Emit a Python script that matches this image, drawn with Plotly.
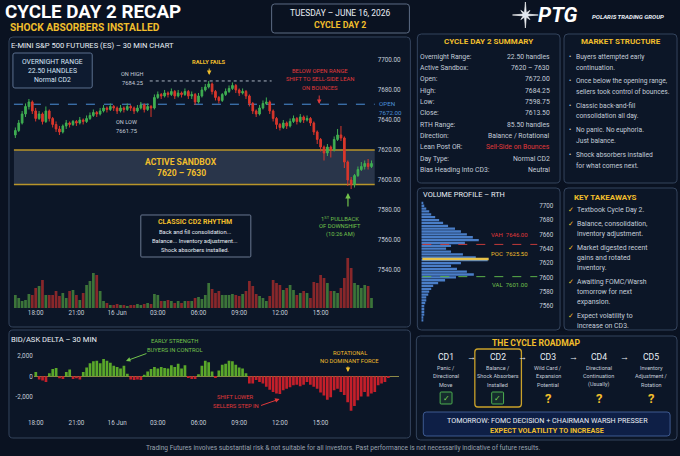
import math

import pandas as pd
import plotly.graph_objects as go

W, H = 680, 456
BG = "#0a1221"
PANEL = "#0c1627"
EDGE = "#34445d"
GOLD = "#f0be2c"
WHITE = "#e9eef5"
SOFT = "#c3ccd8"
RED = "#e0393a"
GREEN = "#72c24c"
BLUE = "#4b8fd8"
FONT = "Roboto"

# ES 15 min bars, first bar 16:30 on 15 Jun
bar_start = "2026-06-15 16:30"
candle_open = [7630, 7633, 7638, 7644, 7649, 7652, 7646, 7641, 7644, 7639,
               7646, 7641, 7637, 7634, 7632, 7636, 7638, 7637, 7639, 7638,
               7640, 7639, 7641, 7643, 7645, 7644, 7646, 7648, 7647, 7649,
               7648, 7646, 7648, 7647, 7649, 7648, 7646, 7648, 7650, 7647,
               7649, 7648, 7655, 7657, 7656, 7658, 7657, 7659, 7656, 7658,
               7657, 7659, 7656, 7657, 7652, 7656, 7660, 7662, 7664, 7659,
               7655, 7653, 7657, 7659, 7661, 7663, 7660, 7658, 7659, 7656,
               7651, 7646, 7644, 7648, 7651, 7652, 7646, 7641, 7637, 7635,
               7638, 7636, 7639, 7641, 7639, 7642, 7640, 7641, 7638, 7632,
               7627, 7622, 7618, 7622, 7620, 7627, 7630, 7628, 7612, 7600,
               7597, 7603, 7607, 7609, 7611, 7609]
candle_high = [7635, 7640, 7646, 7651, 7654, 7653, 7648, 7646, 7645, 7649,
               7647, 7642, 7639, 7636, 7637, 7640, 7639, 7640, 7640, 7642,
               7641, 7643, 7645, 7647, 7646, 7648, 7650, 7649, 7651, 7650,
               7649, 7650, 7649, 7651, 7650, 7649, 7650, 7652, 7651, 7651,
               7650, 7657, 7659, 7658, 7660, 7659, 7661, 7660, 7660, 7659,
               7661, 7660, 7659, 7658, 7658, 7662, 7664, 7666, 7665, 7660,
               7656, 7658, 7661, 7663, 7665, 7664, 7661, 7661, 7660, 7657,
               7652, 7647, 7650, 7653, 7655, 7653, 7647, 7642, 7638, 7640,
               7639, 7641, 7643, 7642, 7644, 7643, 7643, 7642, 7639, 7633,
               7628, 7623, 7624, 7623, 7629, 7634, 7636, 7629, 7613, 7602,
               7604, 7609, 7612, 7613, 7614, 7613]
candle_low = [7628, 7632, 7637, 7642, 7647, 7644, 7639, 7640, 7637, 7638,
              7639, 7635, 7632, 7630, 7631, 7634, 7635, 7636, 7636, 7637,
              7637, 7638, 7640, 7642, 7642, 7643, 7645, 7645, 7646, 7646,
              7644, 7645, 7645, 7646, 7646, 7644, 7645, 7647, 7645, 7646,
              7642, 7647, 7654, 7654, 7655, 7655, 7656, 7654, 7655, 7655,
              7656, 7654, 7654, 7650, 7651, 7655, 7659, 7661, 7657, 7653,
              7651, 7652, 7656, 7658, 7660, 7658, 7656, 7657, 7654, 7649,
              7644, 7642, 7643, 7647, 7650, 7644, 7639, 7634, 7633, 7634,
              7634, 7635, 7638, 7637, 7638, 7638, 7639, 7636, 7630, 7624,
              7619, 7613, 7616, 7615, 7619, 7626, 7626, 7608, 7596, 7594,
              7595, 7602, 7606, 7607, 7607, 7608]
candle_close = [7633, 7638, 7644, 7649, 7652, 7646, 7641, 7644, 7639, 7646,
                7641, 7637, 7634, 7632, 7636, 7638, 7637, 7639, 7638, 7640,
                7639, 7641, 7643, 7645, 7644, 7646, 7648, 7647, 7649, 7648,
                7646, 7648, 7647, 7649, 7648, 7646, 7648, 7650, 7647, 7649,
                7648, 7655, 7657, 7656, 7658, 7657, 7659, 7656, 7658, 7657,
                7659, 7656, 7657, 7652, 7656, 7660, 7662, 7664, 7659, 7655,
                7653, 7657, 7659, 7661, 7663, 7660, 7658, 7659, 7656, 7651,
                7646, 7644, 7648, 7651, 7652, 7646, 7641, 7637, 7635, 7638,
                7636, 7639, 7641, 7639, 7642, 7640, 7641, 7638, 7632, 7627,
                7622, 7618, 7622, 7620, 7627, 7630, 7628, 7612, 7600, 7597,
                7603, 7607, 7609, 7611, 7609, 7611]
# volume in thousands of contracts
volume_k = [13, 10, 7, 8, 14, 13, 20, 22, 28, 13,
            13, 13, 17, 12, 15, 10, 17, 18, 13, 8,
            15, 23, 27, 35, 33, 17, 7, 5, 3, 3,
            4, 3, 3, 2, 3, 3, 4, 3, 4, 5,
            4, 14, 13, 7, 7, 8, 7, 5, 7, 5,
            7, 7, 7, 10, 11, 9, 13, 25, 19, 15,
            17, 13, 13, 13, 14, 13, 12, 14, 17, 27,
            22, 14, 12, 10, 7, 12, 28, 25, 23, 18,
            20, 23, 18, 13, 15, 17, 15, 10, 26, 25,
            33, 30, 25, 17, 17, 15, 20, 30, 50, 40,
            25, 23, 20, 23, 22, 10]

# bid/ask delta, 15 min, from 18:00
delta_start = "2026-06-15 18:00"
delta = [400, -300, -400, -550, 300, 700, 800, -200, -250, 400,
         650, -250, -200, -300, 400, 850, 1250, 1450, 1500, 1250,
         1650, 1500, 1300, 1000, 900, 750, 1000, 250, -300, -350,
         -300, -350, 150, 450, 700, 900, 750, 900, 800, 750,
         1050, 900, 1200, 750, 1050, -100, -250, -250, 200, 1000,
         1500, 1350, 450, -150, 550, 1100, 1200, 1500, 1450, 1100,
         850, 750, 300, -700, -700, -350, -550, -700, -1000, -1300,
         -1500, -1650, -1700, -1350, -1200, -1050, -850, -800, -950, -800,
         -550, -800, -1000, -1200, -1550, -1850, -2250, -2000, -1350, -1200,
         -1500, -1800, -2500, -3300, -2850, -2300, -1950, -1500, -1950, -1650,
         -1500, -850, -700, -550, -100]

time_tick_times = ["2026-06-15 18:00", "2026-06-15 21:00", "2026-06-16 00:00",
                   "2026-06-16 03:00", "2026-06-16 06:00", "2026-06-16 09:00",
                   "2026-06-16 12:00", "2026-06-16 15:00"]
time_tick_labels = ["18:00", "21:00", "16 Jun", "03:00", "06:00", "09:00", "12:00", "15:00"]

# the reference prints its upper two price labels one step higher than the grid
price_tick_vals = [7540, 7560, 7580, 7600, 7620, 7640, 7660, 7680]
price_tick_labels = ["7540.00", "7560.00", "7580.00", "7600.00", "7620.00",
                     "7640.00", "7680.00", "7700.00"]
delta_tick_vals = [-2000, 0, 2000]
delta_tick_labels = ["-2,000", "0", "2,000"]

# volume profile (RTH), 4 point bins
profile_prices = [7540, 7544, 7548, 7552, 7556, 7560, 7564, 7568, 7572, 7576,
                  7580, 7584, 7588, 7592, 7596, 7600, 7604, 7608, 7612, 7616,
                  7620, 7624, 7628, 7632, 7636, 7640, 7644, 7648, 7652, 7656,
                  7660, 7664, 7668, 7672, 7676, 7680, 7684, 7688, 7692, 7696,
                  7700, 7704]
profile_volume = [2, 2, 3, 3, 3, 3, 4, 5, 5, 7,
                  8, 10, 12, 17, 24, 35, 53, 46, 36, 30,
                  40, 67, 55, 42, 30, 25, 30, 44, 58, 52,
                  46, 40, 34, 27, 22, 18, 14, 10, 8, 5,
                  3, 2]
profile_tick_vals = [7560, 7580, 7600, 7620, 7640, 7660, 7680, 7700]
VAH, POC, VAL = 7646.00, 7625.50, 7601.00

summary_labels = ["Overnight Range:", "Active Sandbox:", "Open:", "High:", "Low:", "Close:",
                  "RTH Range:", "Direction:", "Lean Post OR:", "Day Type:",
                  "Bias Heading Into CD3:"]
summary_values = ["22.50 handles", "7620 – 7630", "7672.00", "7684.25", "7598.75", "7613.50",
                  "85.50 handles", "Balance / Rotational", "Sell-Side on Bounces",
                  "Normal CD2", "Neutral"]

structure_items = [["Buyers attempted early", "continuation."],
                   ["Once below the opening range,", "sellers took control of bounces."],
                   ["Classic back-and-fill", "consolidation all day."],
                   ["No panic. No euphoria.", "Just balance."],
                   ["Shock absorbers installed", "for what comes next."]]

takeaway_items = [["Textbook Cycle Day 2."],
                  ["Balance, consolidation,", "inventory adjustment."],
                  ["Market digested recent", "gains and rotated", "inventory."],
                  ["Awaiting FOMC/Warsh", "tomorrow for next", "expansion."],
                  ["Expect volatility to", "increase on CD3."]]

roadmap_days = ["CD1", "CD2", "CD3", "CD4", "CD5"]
roadmap_desc = [["Panic /", "Directional", "Move"],
                ["Balance /", "Shock Absorbers", "Installed"],
                ["Wild Card /", "Expansion", "Potential"],
                ["Directional", "Continuation", "(Usually)"],
                ["Inventory", "Adjustment /", "Rotation"]]
roadmap_done = [True, True, False, False, False]

annotations = []
shapes = []


def px(x):
    return x / W


def py(y):
    return 1 - y / H


def note(x, y, text, size=7, color=WHITE, align="center", bold=False, italic=False):
    if bold:
        text = "<b>" + text + "</b>"
    if italic:
        text = "<i>" + text + "</i>"
    if align == "left":
        # annotation boxes carry some padding, pull left aligned text back to the glyph edge
        x -= 2 + 0.3 * size
    annotations.append(dict(x=px(x), y=py(y), xref="paper", yref="paper", text=text,
                            showarrow=False, xanchor=align, yanchor="middle", align=align,
                            font=dict(size=size, color=color, family=FONT)))


def arrow(x_head, y_head, x_tail, y_tail, color, width=1.1):
    # ax / ay are pixel offsets of the tail from the head
    annotations.append(dict(x=px(x_head), y=py(y_head), ax=x_tail - x_head, ay=y_tail - y_head,
                            xref="paper", yref="paper", text="", showarrow=True,
                            arrowhead=2, arrowsize=0.9, arrowwidth=width, arrowcolor=color))


def rrect(x0, y0, x1, y1, r=4, line=EDGE, fill=PANEL, width=1):
    def p(x, y):
        return f"{px(x):.5f},{py(y):.5f}"
    path = ("M" + p(x0 + r, y0) + " L" + p(x1 - r, y0) + " Q" + p(x1, y0) + " " + p(x1, y0 + r)
            + " L" + p(x1, y1 - r) + " Q" + p(x1, y1) + " " + p(x1 - r, y1)
            + " L" + p(x0 + r, y1) + " Q" + p(x0, y1) + " " + p(x0, y1 - r)
            + " L" + p(x0, y0 + r) + " Q" + p(x0, y0) + " " + p(x0 + r, y0) + " Z")
    shapes.append(dict(type="path", path=path, xref="paper", yref="paper",
                       line=dict(color=line, width=width), fillcolor=fill, layer="below"))


def star(cx, cy):
    pts = []
    for k in range(16):
        a = math.radians(-90 + k * 22.5)
        r = 2.4 if k % 2 else (13 if k % 4 == 0 else 6.5)
        pts.append(f"{px(cx + r * math.cos(a)):.5f},{py(cy + r * math.sin(a)):.5f}")
    shapes.append(dict(type="path", path="M" + " L".join(pts) + " Z", xref="paper",
                       yref="paper", line=dict(color="#ffffff", width=0.6),
                       fillcolor="#dfe5ee"))


def main():
    times = pd.date_range(bar_start, periods=len(candle_close), freq="15min")
    delta_times = pd.date_range(delta_start, periods=len(delta), freq="15min")

    vol_colors = ["rgba(72,140,62,0.8)" if c >= o else "rgba(168,44,44,0.8)"
                  for o, c in zip(candle_open, candle_close)]
    delta_colors = ["#5aa82a" if d >= 0 else "#c41f2a" for d in delta]

    fig = go.Figure()
    fig.add_trace(go.Candlestick(
        x=times, open=candle_open, high=candle_high, low=candle_low, close=candle_close,
        increasing=dict(line=dict(color="#3fae52", width=1), fillcolor="#3fae52"),
        decreasing=dict(line=dict(color="#d9372c", width=1), fillcolor="#d9372c"),
        whiskerwidth=0, xaxis="x", yaxis="y", showlegend=False))
    fig.add_trace(go.Bar(x=times, y=volume_k, marker=dict(color=vol_colors, line_width=0),
                         xaxis="x", yaxis="y2", showlegend=False))
    fig.add_trace(go.Bar(x=delta_times, y=delta, marker=dict(color=delta_colors, line_width=0),
                         xaxis="x2", yaxis="y3", showlegend=False))
    fig.add_trace(go.Bar(x=profile_volume, y=profile_prices, orientation="h", width=3.2,
                         marker=dict(color="#4a7ec8", line_width=0),
                         xaxis="x3", yaxis="y4", showlegend=False))

    # panels
    rrect(268, 4, 407, 33, 3, line="#5d6c84", fill=BG)
    rrect(3, 37, 408, 327)
    rrect(3, 330, 408, 438)
    rrect(415, 34, 559, 183)
    rrect(563, 34, 677, 183)
    rrect(415, 188, 559, 330)
    rrect(563, 188, 677, 330)
    rrect(414, 336, 677, 440)

    # header
    note(5, 11.5, "CYCLE DAY 2 RECAP", 18.8, "#ffffff", "left", bold=True)
    note(7, 27.5, "SHOCK ABSORBERS INSTALLED", 10.2, GOLD, "left", bold=True)
    note(337, 13, "TUESDAY – JUNE 16, 2026", 8.4, WHITE)
    note(337, 25, "CYCLE DAY 2", 8.8, GOLD, bold=True)
    star(524, 15)
    note(543, 15, "PTG", 21, "#ffffff", "left", bold=True, italic=True)
    note(593, 17, "POLARIS TRADING GROUP", 6.1, WHITE, "left", bold=True, italic=True)

    # price panel
    note(7, 45, "E-MINI S&P 500 FUTURES (ES) – 30 MIN CHART", 7.6, WHITE, "left")
    rrect(7, 53, 87, 88, 2, line="#5b6f8e", fill="#0e1b30")
    note(47, 62, "OVERNIGHT RANGE", 6.8, "#d6e4f5")
    note(47, 71, "22.50 HANDLES", 6.8, "#d6e4f5")
    note(47, 80, "Normal CD2", 6.8, "#d6e4f5")

    shapes.append(dict(type="rect", xref="paper", yref="y", x0=px(8), x1=px(372),
                       y0=7597, y1=7620, fillcolor="rgba(120,138,165,0.28)",
                       line=dict(width=0), layer="below"))
    for lvl in (7597, 7620):
        shapes.append(dict(type="line", xref="paper", yref="y", x0=px(8), x1=px(372),
                           y0=lvl, y1=lvl, line=dict(color="#b8952a", width=1.4), layer="below"))
    shapes.append(dict(type="line", xref="paper", yref="y", x0=px(8), x1=px(372),
                       y0=7650.5, y1=7650.5, line=dict(color=BLUE, width=1, dash="dash"),
                       layer="below"))
    shapes.append(dict(type="line", xref="paper", yref="y", x0=px(145), x1=px(268),
                       y0=7666, y1=7666, line=dict(color="#aab3c0", width=1, dash="dot"),
                       layer="below"))

    note(177, 162, "ACTIVE SANDBOX", 8.6, GOLD, bold=True)
    note(177, 173, "7620 – 7630", 8.6, GOLD, bold=True)
    note(128, 74, "ON HIGH", 5.6, SOFT)
    note(128, 83, "7684.25", 5.8, SOFT)
    note(122, 122, "ON LOW", 5.6, SOFT)
    note(122, 131, "7661.75", 5.8, SOFT)
    note(205, 62, "RALLY FAILS", 5.8, GOLD, bold=True)
    arrow(205, 75, 205, 67, GOLD, 1)
    note(317, 71, "BELOW OPEN RANGE", 5.8, RED)
    note(317, 79, "SHIFT TO SELL-SIDE LEAN", 5.8, RED)
    note(317, 88, "ON BOUNCES", 5.8, RED)
    arrow(316, 104, 316, 94, RED, 1)
    note(378, 104, "OPEN", 6.2, BLUE, "left")
    note(378, 113, "7672.00", 6.2, BLUE, "left")
    note(337, 218, "1<sup>ST</sup> PULLBACK", 5.8, GREEN)
    note(337, 226, "OF DOWNSHIFT", 5.8, GREEN)
    note(337, 234, "(10:26 AM)", 5.8, GREEN)
    arrow(345, 193, 345, 208, GREEN, 1.2)
    rrect(136, 215, 247, 257, 1, line="#6a7890", fill="#0b1526")
    note(191, 222, "CLASSIC CD2 RHYTHM", 7, GOLD, bold=True)
    note(191, 232, "Back and fill consolidation...", 5.8, WHITE)
    note(191, 241, "Balance... Inventory adjustment...", 5.8, WHITE)
    note(191, 250, "Shock absorbers installed.", 5.8, WHITE)

    # delta panel
    note(7, 339, "BID/ASK DELTA – 30 MIN", 7.6, WHITE, "left")
    note(170, 341, "EARLY STRENGTH", 5.8, GREEN)
    note(170, 350, "BUYERS IN CONTROL", 5.8, GREEN)
    arrow(121, 361, 143, 353, GREEN, 1)
    note(347, 353, "ROTATIONAL", 5.8, GOLD)
    note(347, 361, "NO DOMINANT FORCE", 5.8, GOLD)
    arrow(345, 372, 345, 365, GOLD, 1)
    note(232, 397, "SHIFT LOWER", 5.8, RED)
    note(232, 406, "SELLERS STEP IN", 5.8, RED)
    arrow(276, 399, 256, 406, RED, 1)

    # summary panel
    note(487, 42, "CYCLE DAY 2 SUMMARY", 8, GOLD, bold=True)
    row_y = [57, 68, 79, 91, 102, 113, 125, 136, 147, 159, 170]
    for lab, val, y in zip(summary_labels, summary_values, row_y):
        note(420, y, lab, 6.8, SOFT, "left")
        note(551, y, val, 6.8, RED if val.startswith("Sell") else SOFT, "right")

    # market structure
    note(620, 42, "MARKET STRUCTURE", 8, GOLD, bold=True)
    y = 57
    for item in structure_items:
        note(569, y, "•", 6.5, SOFT)
        for line in item:
            note(577, y, line, 6.7, SOFT, "left")
            y += 10.5
        y += 3.5

    # volume profile
    note(423, 195, "VOLUME PROFILE – RTH", 7.4, WHITE, "left")
    shapes.append(dict(type="line", xref="paper", yref="y4", x0=px(420), x1=px(536),
                       y0=VAH, y1=VAH, line=dict(color="#c23a3a", width=1, dash="dash")))
    shapes.append(dict(type="line", xref="paper", yref="y4", x0=px(420), x1=px(536),
                       y0=VAL, y1=VAL, line=dict(color="#5bb04a", width=1, dash="dash")))
    shapes.append(dict(type="line", xref="paper", yref="y4", x0=px(420), x1=px(487),
                       y0=POC, y1=POC, line=dict(color="#e6c14a", width=2.5)))
    note(529, 234, f"VAH  {VAH:.2f}", 6, RED, "right")
    note(529, 254, f"POC  {POC:.2f}", 6, GOLD, "right")
    note(529, 284, f"VAL  {VAL:.2f}", 6, GREEN, "right")

    # key takeaways
    note(575, 197, "KEY TAKEAWAYS", 8, GOLD, "left", bold=True)
    y = 210
    for item in takeaway_items:
        note(570, y, "✓", 7, GOLD)
        for line in item:
            note(578, y, line, 6.9, SOFT, "left")
            y += 10.2
        y += 3.6

    # cycle roadmap
    note(535, 343, "THE CYCLE ROADMAP", 8.6, GOLD, bold=True)
    cd_x = [444, 496, 547, 598, 651]
    rrect(473, 349, 520, 407, 3, line="#c9a12a", fill="rgba(0,0,0,0)", width=1.3)
    for i, (day, desc, done) in enumerate(zip(roadmap_days, roadmap_desc, roadmap_done)):
        x = cd_x[i]
        note(x, 357, day, 8.6, WHITE)
        for k, line in enumerate(desc):
            note(x, 368 + k * 8.3, line, 5.5, SOFT)
        if done:
            rrect(x - 6, 392, x + 6, 404, 1, line="#4caf50", fill="rgba(76,175,80,0.15)")
            note(x, 398, "✓", 8, "#7ed957")
        else:
            note(x, 398, "?", 13, GOLD, bold=True)
        if i < 4:
            note((x + cd_x[i + 1]) / 2, 357, "→", 9, WHITE)
    rrect(421, 412, 670, 436, 3, line="#3e5a90", fill="#0e1f46")
    note(546, 420, "TOMORROW: FOMC DECISION + CHAIRMAN WARSH PRESSER", 7.2, WHITE)
    note(546, 430, "EXPECT VOLATILITY TO INCREASE", 7.2, GOLD, bold=True)

    note(340, 448, "Trading Futures involves substantial risk & not suitable for all investors. "
         "Past performance is not necessarily indicative of future results.", 6.6, "#9aa3b0")

    tick_font = dict(size=6.3, color=SOFT, family=FONT)
    fig.update_layout(
        width=W, height=H, margin=dict(l=0, r=0, t=0, b=0),
        paper_bgcolor=BG, plot_bgcolor="rgba(0,0,0,0)", bargap=0.2,
        font=dict(family=FONT, color=WHITE), showlegend=False,
        annotations=annotations, shapes=shapes,
        xaxis=dict(domain=[px(6), px(374)], anchor="y", type="date",
                   range=["2026-06-15 16:15", "2026-06-16 19:08"],
                   tickvals=time_tick_times, ticktext=time_tick_labels, tickfont=tick_font,
                   showgrid=False, zeroline=False, showline=False, ticks="",
                   rangeslider=dict(visible=False)),
        yaxis=dict(domain=[py(308), py(52)], anchor="x", side="right",
                   range=[7514.7, 7685.3], tickvals=price_tick_vals, ticktext=price_tick_labels,
                   tickfont=tick_font, showgrid=False, zeroline=False, ticks=""),
        yaxis2=dict(overlaying="y", range=[0, 256], visible=False),
        xaxis2=dict(domain=[px(28), px(396)], anchor="y3", type="date",
                    range=["2026-06-15 17:51", "2026-06-16 20:45"],
                    tickvals=time_tick_times, ticktext=time_tick_labels, tickfont=tick_font,
                    showgrid=False, zeroline=False, ticks=""),
        yaxis3=dict(domain=[py(418), py(345)], anchor="x2", range=[-4000, 3000],
                    tickvals=delta_tick_vals, ticktext=delta_tick_labels, tickfont=tick_font,
                    showgrid=False, zeroline=True, zerolinecolor="#8d8a48", zerolinewidth=1,
                    ticks=""),
        xaxis3=dict(domain=[px(419), px(537)], anchor="y4", range=[0, 118], visible=False),
        yaxis4=dict(domain=[py(322), py(200)], anchor="x3", side="right", range=[7537.7, 7708],
                    tickvals=profile_tick_vals, tickfont=tick_font, showgrid=False,
                    zeroline=False, ticks=""),
    )
    # the page body has a default 8px margin; drop it so the figure fills the window
    fig.write_html("out.html", config={"displayModeBar": False},
                   post_script="document.body.style.margin='0px';")


if __name__ == "__main__":
    main()
